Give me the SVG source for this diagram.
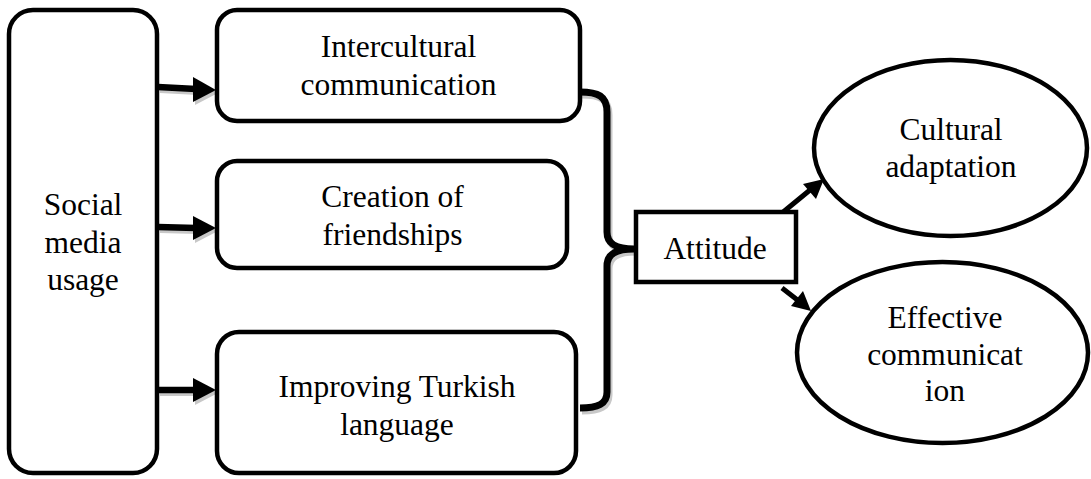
<svg xmlns="http://www.w3.org/2000/svg" width="1091" height="479" viewBox="0 0 1091 479">
<style>
.box{fill:#fff;stroke:#000;stroke-width:4.5}
.t{font-family:'Liberation Serif',Tinos,'Times New Roman','DejaVu Serif',serif;font-size:31.5px;fill:#000;text-anchor:middle}
.sh{stroke:#c8c8c8;fill:none}
.shf{fill:#c8c8c8}
.ln{stroke:#000;fill:none}
</style>
<rect width="1091" height="479" fill="#fff"/>
<g id="connectors">
  <g transform="translate(2,3)">
    <path class="sh" stroke-width="6" d="M158,87 L196,89 M158,227 L196,228 M158,390 L196,390"/>
    <polygon class="shf" points="193,77 216,90 193,102"/>
    <polygon class="shf" points="193,216 216,228 193,240"/>
    <polygon class="shf" points="193,378 216,390 193,402"/>
    <path class="sh" stroke-width="7" d="M580,92 C598,92 607,96 607,112 L607,232 C607,244 616,249 634,249 C616,249 607,254 607,266 L607,392 C607,404 598,408 580,408"/>
  </g>
  <path class="ln" stroke-width="6.5" d="M158,87 L196,89 M158,227 L196,228 M158,390 L196,390"/>
  <polygon points="193,77 216,90 193,102" fill="#000"/>
  <polygon points="193,216 216,228 193,240" fill="#000"/>
  <polygon points="193,378 216,390 193,402" fill="#000"/>
  <path class="ln" stroke-width="7" d="M580,92 C598,92 607,96 607,112 L607,232 C607,244 616,249 634,249 C616,249 607,254 607,266 L607,392 C607,404 598,408 580,408"/>
  <path class="ln" stroke-width="5" d="M782,213 L810,190 M782,288 L800,302"/>
  <polygon points="824,179 816,199 803,184" fill="#000"/>
  <polygon points="811,311 791,306 803,291" fill="#000"/>
</g>
<g id="social">
  <rect class="box" x="9" y="10" width="148" height="463" rx="24"/>
  <text class="t" x="83" y="215">Social</text>
  <text class="t" x="83" y="253">media</text>
  <text class="t" x="83" y="290">usage</text>
</g>
<g id="intercultural">
  <rect class="box" x="217" y="10" width="363" height="111" rx="20"/>
  <text class="t" x="398.5" y="57">Intercultural</text>
  <text class="t" x="398.5" y="95">communication</text>
</g>
<g id="creation">
  <rect class="box" x="217" y="161" width="350" height="107" rx="20"/>
  <text class="t" x="392.5" y="207">Creation of</text>
  <text class="t" x="392.5" y="245">friendships</text>
</g>
<g id="improving">
  <rect class="box" x="217" y="332" width="359" height="141" rx="22"/>
  <text class="t" x="397" y="397">Improving Turkish</text>
  <text class="t" x="397" y="435">language</text>
</g>
<g id="attitude">
  <rect class="box" x="636" y="212" width="160" height="70"/>
  <text class="t" x="715" y="259">Attitude</text>
</g>
<g id="cultural">
  <ellipse class="box" cx="950.5" cy="148" rx="136.5" ry="88"/>
  <text class="t" x="951" y="140">Cultural</text>
  <text class="t" x="951" y="177">adaptation</text>
</g>
<g id="effective">
  <ellipse class="box" cx="942.5" cy="352.5" rx="145.5" ry="90.5"/>
  <text class="t" x="945" y="328">Effective</text>
  <text class="t" x="945" y="365">communicat</text>
  <text class="t" x="945" y="401">ion</text>
</g>
</svg>
